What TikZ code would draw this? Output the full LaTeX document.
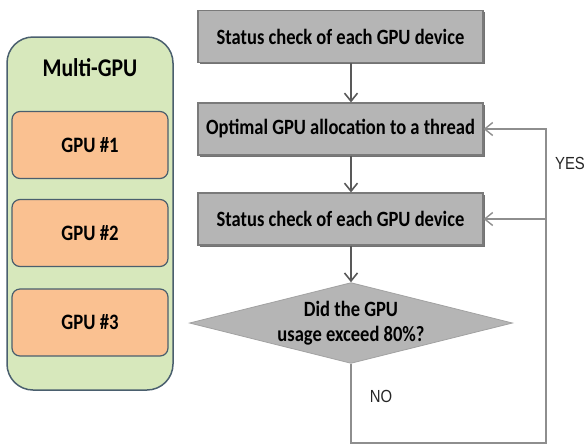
\documentclass[tikz,border=0pt]{standalone}
\usepackage{fontspec}
\setmainfont[FakeStretch=0.85]{Carlito}
\newfontfamily\labelfont[FakeStretch=0.85]{Liberation Sans}
\usetikzlibrary{arrows.meta,shapes.geometric,shadows}
\definecolor{panelgreen}{HTML}{D7E8BC}
\definecolor{paneledge}{HTML}{4A5F6E}
\definecolor{gpuorange}{HTML}{FAC191}
\definecolor{boxgray}{HTML}{B5B5B5}
\definecolor{boxedge}{HTML}{7A7A7A}
\definecolor{darkarrow}{HTML}{595959}
\definecolor{loopgray}{HTML}{8E8E8E}
\tikzset{%
  panel/.style={draw=paneledge,line width=1.5pt,fill=panelgreen,rounded corners=26pt,minimum width=166pt,minimum height=353pt},
  gpubox/.style={draw=paneledge,line width=1.2pt,fill=gpuorange,rounded corners=8pt,minimum width=156pt,minimum height=67pt,font=\fontsize{22}{24}\selectfont\bfseries},
  stepbox/.style={draw=boxedge,line width=1.2pt,fill=boxgray,minimum width=285pt,minimum height=52pt,inner sep=0pt,font=\fontsize{21.8}{24}\selectfont\bfseries,drop shadow={shadow xshift=1.5pt,shadow yshift=-1.5pt,fill=black!55,opacity=1}},
  testbox/.style={draw=boxedge!70,line width=0.8pt,fill=boxgray,shape=diamond,shape aspect=4,inner sep=0pt,align=center,font=\fontsize{21.8}{25}\selectfont\bfseries},
  flowarrow/.style={draw=darkarrow,line width=2pt,-{Straight Barb[length=8pt,width=13pt,line width=1.6pt]}},
  loopline/.style={draw=loopgray,line width=1.5pt},
  looparrow/.style={loopline,-{Straight Barb[length=8pt,width=13pt,line width=1.4pt]}},
  answer/.style={font=\labelfont\fontsize{17.5}{19}\selectfont,text=black!85}
}
\begin{document}
\begin{tikzpicture}[x=1pt,y=-1pt]
  \useasboundingbox (0,0) rectangle (585,445);
  % GPU side
  \node[panel] (multigpu) at (90,213.5) {};
  \node[font=\fontsize{25.5}{28}\selectfont\bfseries] (title) at (90,68) {Multi-GPU};
  \path[every node/.style={gpubox}]
    (90,145) node(gpu1){GPU \#1}
    (90,233) node(gpu2){GPU \#2}
    (90,322.5) node(gpu3){GPU \#3};
  % flow chart
  \path[every node/.style={stepbox}]
    (340.5,36.5) node(stat1){Status check of each GPU device}
    (340.5,129) node(alloc){Optimal GPU allocation to a thread}
    (340.5,219) node(stat2){Status check of each GPU device};
  \node[testbox] (usage) at (351,323) {Did the GPU\\usage exceed 80\%?};
  \draw[flowarrow] (stat1.south -| usage.north) -- (alloc.north -| usage.north);
  \draw[flowarrow] (alloc.south -| usage.north) -- (stat2.north -| usage.north);
  \draw[flowarrow] (stat2.south -| usage.north) -- (usage.north);
  % loop back
  \coordinate (loopbl) at (351,443);
  \coordinate (loopbr) at (546,443);
  \coordinate (loopyes) at (546,129);
  \coordinate (loopmid) at (546,219);
  \draw[looparrow] (usage.south) -- (loopbl) -- (loopbr) -- (loopyes) -- (alloc.east);
  \draw[looparrow] (loopmid) -- (stat2.east);
  \node[answer] (yes) at (570,163) {YES};
  \node[answer] (no) at (381,396) {NO};
\end{tikzpicture}
\end{document}
